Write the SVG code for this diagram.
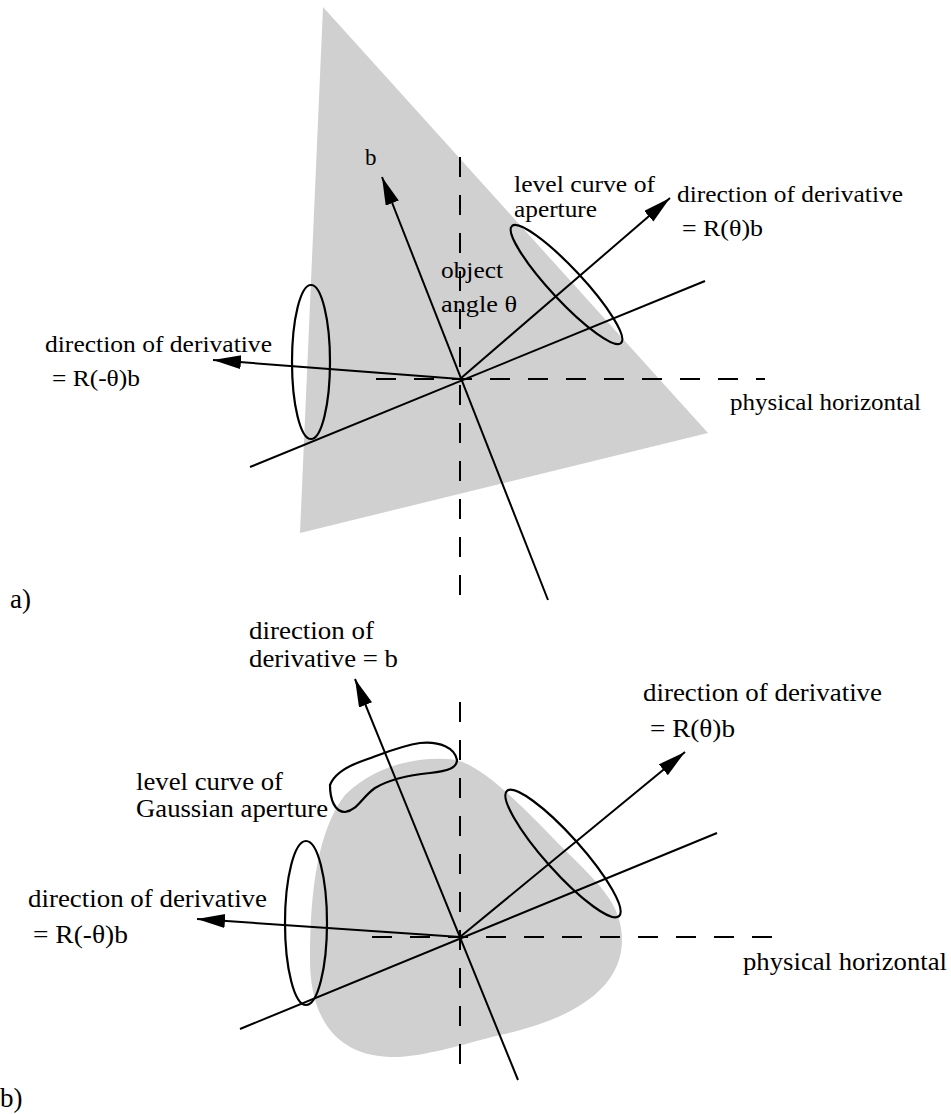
<svg xmlns="http://www.w3.org/2000/svg" width="951" height="1114" viewBox="0 0 951 1114">
<style>
  .ln{stroke:#000;stroke-width:2;fill:none}
  .dash{stroke:#000;stroke-width:2;fill:none;stroke-dasharray:20 18}
  .curve{stroke:#000;stroke-width:2.2;fill:none}
  .shade{fill:#d0d0d0;stroke:none}
  .ta{font-family:"Liberation Serif","Times New Roman",serif;font-size:23px;fill:#000}
  .tb{font-family:"Liberation Serif","Times New Roman",serif;font-size:25px;fill:#000}
  .tl{font-family:"Liberation Serif","Times New Roman",serif;font-size:27px;fill:#000}
</style>
<defs>
  <marker id="arr" markerUnits="userSpaceOnUse" markerWidth="30" markerHeight="16" refX="28" refY="7" orient="auto">
    <path d="M0,0 L28,7 L0,14 Z" fill="#000"/>
  </marker>
</defs>
<rect width="951" height="1114" fill="#fff"/>

<!-- Panel a -->
<g id="panel-a">
  <polygon id="a-object" class="shade" points="323,7 708,433 300,533"/>
  <g id="a-axes">
    <line class="dash" x1="460" y1="157" x2="460" y2="600"/>
    <line class="dash" x1="376" y1="379" x2="765" y2="379"/>
  </g>
  <g id="a-connectors">
    <line class="ln" x1="250" y1="467" x2="705" y2="281"/>
    <line class="ln" x1="548" y1="600" x2="382" y2="177" marker-end="url(#arr)"/>
    <line class="ln" x1="460" y1="379" x2="670" y2="198" marker-end="url(#arr)"/>
    <line class="ln" x1="460" y1="379" x2="213" y2="360" marker-end="url(#arr)"/>
  </g>
  <g id="a-level-left"><ellipse class="curve" cx="311" cy="362" rx="19" ry="77"/></g>
  <g id="a-level-right"><ellipse class="curve" cx="566.5" cy="284.5" rx="80" ry="16" transform="rotate(47 566.5 284.5)"/></g>
  <g id="a-labels">
    <text class="ta" x="365" y="165">b</text>
    <text class="ta" x="514" y="192" textLength="141" lengthAdjust="spacingAndGlyphs">level curve of</text>
    <text class="ta" x="514" y="217" textLength="83" lengthAdjust="spacingAndGlyphs">aperture</text>
    <text class="ta" x="677" y="202" textLength="226" lengthAdjust="spacingAndGlyphs">direction of derivative</text>
    <text class="ta" x="682" y="236" textLength="81" lengthAdjust="spacingAndGlyphs">= R(θ)b</text>
    <text class="ta" x="441" y="278" textLength="62" lengthAdjust="spacingAndGlyphs">object</text>
    <text class="ta" x="441" y="312" textLength="76" lengthAdjust="spacingAndGlyphs">angle θ</text>
    <text class="ta" x="45" y="352" textLength="227" lengthAdjust="spacingAndGlyphs">direction of derivative</text>
    <text class="ta" x="52" y="386" textLength="88" lengthAdjust="spacingAndGlyphs">= R(-θ)b</text>
    <text class="ta" x="730" y="410" textLength="191" lengthAdjust="spacingAndGlyphs">physical horizontal</text>
    <text class="tl" x="10" y="608">a)</text>
  </g>
</g>

<!-- Panel b -->
<g id="panel-b">
  <path id="b-object" class="shade" d="M457,760 C490,770 530,815 570,855 C600,885 622,905 622,940 C622,990 570,1020 500,1035 C460,1045 420,1058 390,1057 C330,1055 310,1010 310,960 C310,890 318,830 345,795 C375,765 420,755 457,760 Z"/>
  <g id="b-axes">
    <line class="dash" x1="460" y1="702" x2="460" y2="1080"/>
    <line class="dash" x1="372" y1="937" x2="780" y2="937"/>
  </g>
  <g id="b-connectors">
    <line class="ln" x1="240" y1="1029" x2="717" y2="833"/>
    <line class="ln" x1="518" y1="1080" x2="355" y2="679" marker-end="url(#arr)"/>
    <line class="ln" x1="460" y1="937" x2="685" y2="752" marker-end="url(#arr)"/>
    <line class="ln" x1="460" y1="937" x2="197" y2="919" marker-end="url(#arr)"/>
  </g>
  <g id="b-level-top"><path class="curve" d="M330,785 C335,772 350,765 365,760 C385,753 400,746 420,743 C440,741 455,748 457,760 C457,768 448,771 430,773 C410,775 390,779 375,788 C362,797 358,810 345,812 C335,812 330,800 330,785 Z"/></g>
  <g id="b-level-left"><ellipse class="curve" cx="306" cy="923" rx="21" ry="82"/></g>
  <g id="b-level-right"><ellipse class="curve" cx="563" cy="853.5" rx="84" ry="18" transform="rotate(48.2 563 853.5)"/></g>
  <g id="b-labels">
    <text class="tb" x="249" y="639" textLength="125" lengthAdjust="spacingAndGlyphs">direction of</text>
    <text class="tb" x="249" y="667" textLength="149" lengthAdjust="spacingAndGlyphs">derivative = b</text>
    <text class="tb" x="643" y="701" textLength="239" lengthAdjust="spacingAndGlyphs">direction of derivative</text>
    <text class="tb" x="650" y="737" textLength="85" lengthAdjust="spacingAndGlyphs">= R(θ)b</text>
    <text class="tb" x="136" y="790" textLength="147" lengthAdjust="spacingAndGlyphs">level curve of</text>
    <text class="tb" x="136" y="817" textLength="192" lengthAdjust="spacingAndGlyphs">Gaussian aperture</text>
    <text class="tb" x="28" y="907" textLength="239" lengthAdjust="spacingAndGlyphs">direction of derivative</text>
    <text class="tb" x="33" y="943" textLength="95" lengthAdjust="spacingAndGlyphs">= R(-θ)b</text>
    <text class="tb" x="743" y="970" textLength="204" lengthAdjust="spacingAndGlyphs">physical horizontal</text>
    <text class="tl" x="0" y="1107">b)</text>
  </g>
</g>
</svg>
